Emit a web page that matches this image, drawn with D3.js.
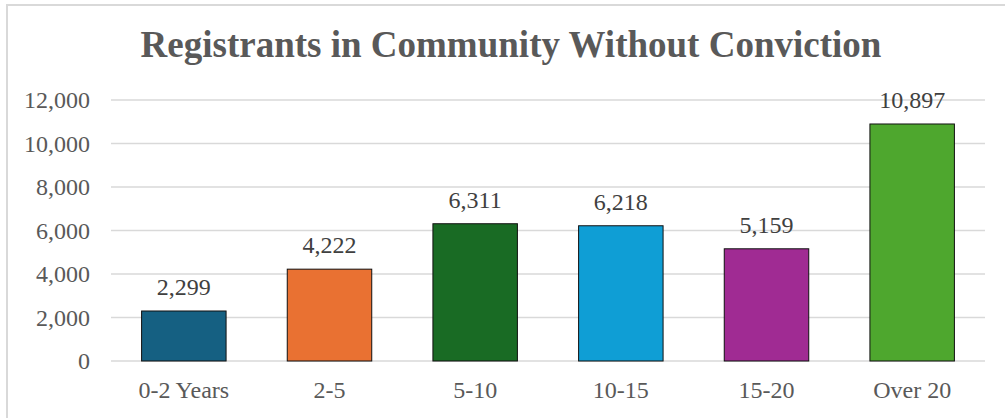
<!DOCTYPE html>
<html>
<head>
<meta charset="utf-8">
<script src="https://cdn.jsdelivr.net/npm/d3@7/dist/d3.min.js"></script>
<style>
html,body{margin:0;padding:0;background:#fff;}
svg{display:block;}
text{font-family:"Liberation Serif","Times New Roman",serif;}
</style>
</head>
<body>
<svg id="chart" width="1005" height="418"></svg>
<script>
const categories = ["0-2 Years","2-5","5-10","10-15","15-20","Over 20"];
const values = [2299, 4222, 6311, 6218, 5159, 10897];
const colors = ["#156082","#E97132","#196B24","#0F9ED5","#A02B93","#4EA72E"];
const yTicks = [0, 2000, 4000, 6000, 8000, 10000, 12000];
const title = "Registrants in Community Without Conviction";

const svg = d3.select("#chart");
const W = 1005, H = 418;
const plot = {left: 111, right: 985, top: 100, bottom: 361};
const FS = 24;

// outer border
svg.append("rect")
  .attr("x", 7).attr("y", 5)
  .attr("width", W + 20).attr("height", H + 20)
  .attr("fill", "#fff").attr("stroke", "#d9d9d9").attr("stroke-width", 2);

svg.append("text")
  .attr("x", 511).attr("y", 57)
  .attr("text-anchor", "middle")
  .attr("font-size", 37).attr("font-weight", "bold")
  .attr("fill", "#595959")
  .text(title);

const x = d3.scaleBand().domain(categories).range([plot.left, plot.right]).paddingInner(0.42).paddingOuter(0.21);
const y = d3.scaleLinear().domain([0, 12000]).range([plot.bottom, plot.top]);

// gridlines
svg.append("g").selectAll("line").data(yTicks).join("line")
  .attr("x1", plot.left).attr("x2", plot.right)
  .attr("y1", d => y(d)).attr("y2", d => y(d))
  .attr("stroke", "#d9d9d9").attr("stroke-width", 1.3);

// y axis labels
const yAxis = d3.axisLeft(y).tickValues(yTicks).tickFormat(d3.format(",")).tickSize(0).tickPadding(0);
const gy = svg.append("g").attr("transform", `translate(90,0)`).call(yAxis);
gy.select(".domain").remove();
gy.selectAll("text").attr("font-size", FS).attr("fill", "#595959")
  .attr("font-family", '"Liberation Serif","Times New Roman",serif');

// bars
svg.append("g").selectAll("rect").data(values).join("rect")
  .attr("x", (d,i) => x(categories[i]))
  .attr("y", d => y(d))
  .attr("width", x.bandwidth())
  .attr("height", d => y(0) - y(d))
  .attr("fill", (d,i) => colors[i])
  .attr("stroke", "#111").attr("stroke-width", 1);

// data labels
svg.append("g").selectAll("text").data(values).join("text")
  .attr("x", (d,i) => x(categories[i]) + x.bandwidth()/2)
  .attr("y", d => y(d) - 16)
  .attr("text-anchor", "middle")
  .attr("font-size", FS).attr("fill", "#404040")
  .text(d => d3.format(",")(d));

// x axis labels
const xAxis = d3.axisBottom(x).tickSize(0).tickPadding(0);
const gx = svg.append("g").attr("transform", `translate(0,${plot.bottom})`).call(xAxis);
gx.select(".domain").remove();
gx.selectAll("text").attr("font-size", FS).attr("fill", "#595959")
  .attr("font-family", '"Liberation Serif","Times New Roman",serif')
  .attr("dy", null).attr("y", 37);
</script>
</body>
</html>
